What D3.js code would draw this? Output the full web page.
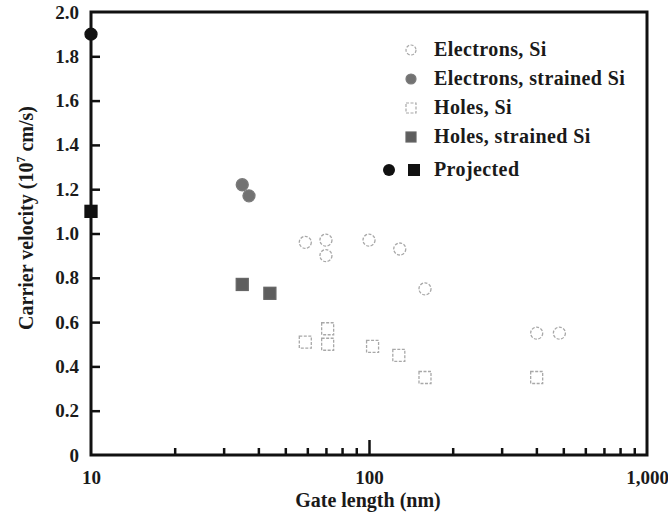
<!DOCTYPE html>
<html>
<head>
<meta charset="utf-8">
<script src="https://cdn.jsdelivr.net/npm/d3@7"></script>
<style>
  html, body { margin: 0; padding: 0; background: #fff; }
  svg { display: block; }
  text { font-family: "Liberation Serif", "DejaVu Serif", serif; fill: #1a1a1a; }
</style>
</head>
<body>
<svg id="chart" width="668" height="518"></svg>
<script>
// Gate length (nm) and carrier velocity (1e7 cm/s) per series
const electronsSiL = [59, 70, 70, 100, 129, 159, 401, 484];
const electronsSiV = [0.96, 0.97, 0.90, 0.97, 0.93, 0.75, 0.55, 0.55];
const electronsStrainedL = [35, 37];
const electronsStrainedV = [1.22, 1.17];
const holesSiL = [59, 71, 71, 103, 128, 159, 401];
const holesSiV = [0.51, 0.57, 0.50, 0.49, 0.45, 0.35, 0.35];
const holesStrainedL = [35, 44];
const holesStrainedV = [0.77, 0.73];
const projectedElectronL = [10];
const projectedElectronV = [1.9];
const projectedHoleL = [10];
const projectedHoleV = [1.1];

const yTicks = [0, 0.2, 0.4, 0.6, 0.8, 1.0, 1.2, 1.4, 1.6, 1.8, 2.0];
const xLabelTicks = [10, 100, 1000];
const legendLabels = ["Electrons, Si", "Electrons, strained Si", "Holes, Si", "Holes, strained Si", "Projected"];

const zip = (xs, ys) => xs.map((x, i) => ({ x, y: ys[i] }));

const svg = d3.select("#chart");
const plotL = 91, plotR = 647, plotT = 12, plotB = 455;

const x = d3.scaleLog().domain([10, 1000]).range([plotL, plotR]);
const y = d3.scaleLinear().domain([0, 2]).range([plotB, plotT]);

// Y axis: ticks drawn inward
const yAxis = d3.axisLeft(y).tickValues(yTicks)
  .tickSize(-9).tickPadding(12)
  .tickFormat(d => d === 0 ? "0" : d3.format(".1f")(d));
const gy = svg.append("g").attr("transform", `translate(${plotL},0)`).call(yAxis);
gy.select(".domain").remove();
gy.selectAll(".tick").filter(d => d === 0 || d === 2).select("line").remove();
gy.selectAll(".tick line").attr("stroke", "#111").attr("stroke-width", 2.5);
gy.selectAll(".tick text").attr("font-size", 19).attr("font-weight", "bold")
  .attr("fill", "#2a2a2a").attr("font-family", "Liberation Serif, serif");

// X axis: minor ticks inward, longer at 100
const minorTicks = [];
[10, 100].forEach(b => { for (let k = 2; k <= 9; k++) minorTicks.push(b * k); });
const xAxisMinor = d3.axisBottom(x).tickValues(minorTicks.concat([100]))
  .tickSize(-7).tickFormat("");
const gx = svg.append("g").attr("transform", `translate(0,${plotB})`).call(xAxisMinor);
gx.select(".domain").remove();
gx.selectAll(".tick").filter(d => d === 100).select("line").attr("y2", -15);
gx.selectAll(".tick line").attr("stroke", "#111").attr("stroke-width", 2.5);

const xAxisLabels = d3.axisBottom(x).tickValues(xLabelTicks).tickSize(0).tickPadding(16)
  .tickFormat(d => d3.format(",")(d));
const gxl = svg.append("g").attr("transform", `translate(0,${plotB})`).call(xAxisLabels);
gxl.select(".domain").remove();
gxl.selectAll(".tick text").attr("font-size", 19).attr("font-weight", "bold")
  .attr("fill", "#2a2a2a").attr("font-family", "Liberation Serif, serif");

// Frame
svg.append("rect").attr("x", plotL).attr("y", plotT)
  .attr("width", plotR - plotL).attr("height", plotB - plotT)
  .attr("fill", "none").attr("stroke", "#111").attr("stroke-width", 3);

// Axis titles
svg.append("text")
  .attr("transform", "translate(33,218) rotate(-90)")
  .attr("text-anchor", "middle").attr("font-size", 20).attr("font-weight", "bold")
  .attr("fill", "#2a2a2a")
  .html('Carrier velocity  (10<tspan dy="-8" font-size="12">7</tspan><tspan dy="8"> cm/s)</tspan>');

svg.append("text")
  .attr("x", 368).attr("y", 507)
  .attr("text-anchor", "middle").attr("font-size", 20).attr("font-weight", "bold")
  .attr("fill", "#2a2a2a")
  .text("Gate length  (nm)");

// Marker helpers
const sq = 12, r = 6;
function circles(data, fill, stroke, dash) {
  svg.append("g").selectAll("circle").data(data).join("circle")
    .attr("cx", d => x(d.x)).attr("cy", d => y(d.y)).attr("r", r)
    .attr("fill", fill).attr("stroke", stroke).attr("stroke-width", 1.3)
    .attr("stroke-dasharray", dash || null);
}
function squares(data, fill, stroke, dash) {
  svg.append("g").selectAll("rect").data(data).join("rect")
    .attr("x", d => x(d.x) - sq / 2).attr("y", d => y(d.y) - sq / 2)
    .attr("width", sq).attr("height", sq)
    .attr("fill", fill).attr("stroke", stroke).attr("stroke-width", 1.3)
    .attr("stroke-dasharray", dash || null);
}

const openStroke = "#a8a8a8";
circles(zip(electronsSiL, electronsSiV), "none", openStroke, "3,1.5");
circles(zip(electronsStrainedL, electronsStrainedV), "#727272", "#7a7a7a", null);
squares(zip(holesSiL, holesSiV), "none", openStroke, "3,1.5");
squares(zip(holesStrainedL, holesStrainedV), "#5e5e5e", "#666", null);
circles(zip(projectedElectronL, projectedElectronV), "#111", "#111", null);
squares(zip(projectedHoleL, projectedHoleV), "#111", "#111", null);

// Legend
const lg = svg.append("g");
const rowsY = [50, 79, 108, 137, 170];
const symX = 411, textX = 434;
const lgSym = [
  { shape: "c", fill: "none", stroke: openStroke, dash: "3,1.5" },
  { shape: "c", fill: "#727272", stroke: "#7a7a7a" },
  { shape: "s", fill: "none", stroke: openStroke, dash: "3,1.5" },
  { shape: "s", fill: "#5e5e5e", stroke: "#666" }
];
lgSym.forEach((s, i) => {
  if (s.shape === "c") {
    lg.append("circle").attr("cx", symX).attr("cy", rowsY[i]).attr("r", 5)
      .attr("fill", s.fill).attr("stroke", s.stroke).attr("stroke-width", 1.2)
      .attr("stroke-dasharray", s.dash || null);
  } else {
    lg.append("rect").attr("x", symX - 5).attr("y", rowsY[i] - 5).attr("width", 10).attr("height", 10)
      .attr("fill", s.fill).attr("stroke", s.stroke).attr("stroke-width", 1.2)
      .attr("stroke-dasharray", s.dash || null);
  }
});
lg.append("circle").attr("cx", 389).attr("cy", rowsY[4]).attr("r", 6).attr("fill", "#111");
lg.append("rect").attr("x", 408).attr("y", rowsY[4] - 6).attr("width", 12).attr("height", 12).attr("fill", "#111");
legendLabels.forEach((t, i) => {
  lg.append("text").attr("x", textX).attr("y", rowsY[i] + 6)
    .attr("font-size", 20).attr("font-weight", "bold").attr("letter-spacing", 0.4)
    .attr("fill", "#2a2a2a").text(t);
});
</script>
</body>
</html>
